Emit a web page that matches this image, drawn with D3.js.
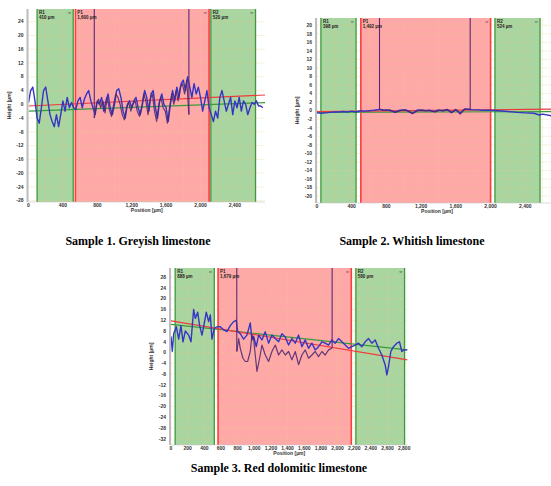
<!DOCTYPE html>
<html lang="en">
<head>
    <meta charset="UTF-8">
    <title>Limestone profiles</title>
    <script src="https://cdn.jsdelivr.net/npm/d3@7/dist/d3.min.js"></script>
    <style>
        body { margin: 0; background: #fff; }
        svg { display: block; }
        .tick-label { font-family: "Liberation Sans", Arial, sans-serif; font-size: 5px; font-weight: bold; fill: #333; }
        .axis-title { font-family: "Liberation Sans", Arial, sans-serif; font-size: 5px; font-weight: bold; fill: #333; }
        .region-label { font-family: "Liberation Sans", Arial, sans-serif; font-size: 4.5px; font-weight: bold; fill: #222; }
        .caption { font-family: "Liberation Serif", "Times New Roman", serif; font-size: 12px; font-weight: bold; fill: #000; }
    </style>
</head>
<body>
    <svg width="551" height="486"></svg>
    <script>
        // sample 1 - greyish limestone  [position µm, height µm]
        const s1Profile = [[0,0.5],[25,4],[50,5],[75,1],[100,-4],[125,-5.5],[150,-1],[175,4],[200,5],[225,1],[250,-3],[275,-5],
            [300,-6.5],[325,-3],[350,-6.5],[375,-3],[400,1],[425,-2],[450,2],[475,-1],[500,0.5],[525,-1],[550,-1.5],[575,1],
            [600,2],[625,-1],[650,1.5],[675,3],[700,4],[725,1],[750,-1],[775,-3],[800,1],[825,0],[850,2],[875,-2],[900,1],
            [925,3],[950,-1],[975,-3],[1000,0],[1025,4],[1050,4.5],[1075,2],[1100,-2],[1125,-4],[1150,0],[1175,1],[1200,-1],
            [1225,1],[1250,2],[1275,-1],[1300,-3],[1325,0],[1350,4],[1375,2],[1400,-2],[1425,3],[1450,4],[1475,-1],[1500,-4],
            [1525,1],[1550,3],[1575,0],[1600,-1],[1625,-5],[1650,0],[1675,4],[1700,1],[1725,5],[1750,2],[1775,6],[1800,7],
            [1825,4],[1850,8],[1875,5],[1900,2],[1925,6],[1950,3],[1975,5],[2000,2],[2025,-2],[2050,1],[2075,4],[2100,-1],
            [2125,-3],[2150,-5],[2175,-2],[2200,-4],[2225,2],[2250,4],[2275,1],[2300,-2],[2325,0],[2350,2],[2375,-3],[2400,1],
            [2425,-1],[2450,2],[2475,-2],[2500,1],[2525,0],[2550,-3],[2575,-1],[2600,0.5],[2625,0],[2650,1],[2675,-0.5],
            [2700,-0.5],[2725,-1]];
        const s1Trace = [[765,-4],[790,0],[815,1.5],[840,-1],[865,1],[890,-2.5],[915,2],[940,-1.5],[965,-3.5],[990,0],[1015,3],
            [1040,2],[1065,0],[1090,-3],[1115,-4.5],[1140,-1],[1165,0.5],[1190,-2],[1215,0],[1240,1],[1265,-2],[1290,-3.5],
            [1315,-1],[1340,3],[1365,1],[1390,-3],[1415,1.5],[1440,3],[1465,-2],[1490,-5],[1515,0],[1540,2],[1565,-1],[1590,-2],
            [1615,-5.5],[1640,-1],[1665,3],[1690,0],[1715,4],[1740,1],[1765,5],[1790,6],[1815,3],[1840,7],[1865,-3]];
        const s1Regions = [["R1", 100, 520, "410 µm"], ["P1", 545, 2100, "1,600 µm"], ["R2", 2120, 2640, "520 µm"]];
        const s1Cursors = [[765, -4], [1865, -3]];
        const s1RedFit = [[0, -0.5], [2750, 2.7]];
        const s1GreenFit = [[0, -2], [2750, 0.5]];

        // sample 2 - whitish limestone
        const s2Profile = [[0,-0.5],[50,-0.6],[100,-0.5],[150,-0.4],[200,-0.3],[250,-0.3],[300,-0.2],[350,-0.3],[400,-0.1],
            [450,-0.3],[500,0],[550,-0.1],[600,0],[650,0.1],[720,0.3],[760,0.1],[800,0.2],[850,0],[900,-0.3],[950,0.1],
            [1000,0.2],[1050,0],[1100,-0.6],[1150,0.1],[1200,0.2],[1250,0],[1300,0.1],[1350,-0.2],[1400,0.2],[1450,-0.1],
            [1500,0.3],[1550,-0.4],[1600,0.3],[1650,-0.6],[1700,0.4],[1750,0.3],[1800,0.2],[1850,0.2],[1900,0.1],[2000,0.1],
            [2100,0],[2200,-0.2],[2300,-0.4],[2400,-0.5],[2500,-0.6],[2560,-1.0],[2600,-0.8],[2700,-1.2],[2750,-1.3]];
        const s2Trace = [[720,0.4],[780,0.1],[840,0.2],[900,-0.4],[960,0],[1020,0.2],[1100,-0.7],[1160,0],[1220,0.1],[1300,0],
            [1360,-0.3],[1420,0.1],[1500,0.2],[1550,-0.5],[1600,0.2],[1650,-0.8],[1700,0.3],[1765,0.4]];
        const s2Regions = [["R1", 45, 450, "398 µm"], ["P1", 505, 2000, "1,492 µm"], ["R2", 2050, 2570, "524 µm"]];
        const s2Cursors = [[720, 0.4], [1765, 0.4]];
        const s2RedFit = [[0, -0.2], [2800, 0.4]];
        const s2GreenFit = [[0, -0.4], [2800, -0.2]];

        // sample 3 - red dolomitic limestone
        const s3Profile = [[0,6],[16,0.5],[32,7],[64,9.6],[92,5],[120,10],[144,4],[172,8],[212,6.5],[240,4],[272,16],[292,12.7],
            [320,15],[344,10],[372,6.5],[392,9.6],[424,15],[452,11.5],[472,14],[492,5],[520,9],[552,9.6],[592,9.6],[632,8.5],
            [672,7.8],[712,10],[752,11.5],[784,12],[800,7.8],[832,7],[872,5],[912,6.5],[952,11],[972,4.7],[992,6],[1024,2.2],
            [1052,6.5],[1092,4.7],[1132,7.7],[1172,3.5],[1212,6.5],[1252,5.2],[1292,4],[1332,7],[1372,5.8],[1412,2.8],[1452,5.2],
            [1492,3.5],[1532,6.5],[1572,2.2],[1612,4.7],[1652,1.6],[1692,3.5],[1732,1],[1772,2.2],[1812,4],[1852,3.5],[1892,2.8],
            [1932,4.7],[1972,3.5],[2012,5.2],[2052,4],[2092,2.8],[2132,1.6],[2172,2.2],[2212,2.8],[2252,3.5],[2292,2.2],[2332,4],
            [2372,5.2],[2412,3.5],[2452,4.7],[2492,1.6],[2532,-0.9],[2572,-4.6],[2592,-8.3],[2612,-5.2],[2640,0.4],[2672,2.2],
            [2712,3.5],[2744,4],[2772,0.4],[2800,1],[2840,1]];
        const s3Trace = [[792,0.4],[812,5.2],[832,1.6],[864,-2.1],[892,-3.3],[920,-3.3],[952,0.4],[972,6.5],[992,5.2],[1012,-0.9],
            [1032,-7],[1064,-2.1],[1092,2.8],[1132,-0.9],[1172,-3.3],[1212,0.4],[1252,2.8],[1292,-0.9],[1332,1],[1372,-0.9],
            [1412,0.4],[1452,-2.7],[1492,0.4],[1532,-4.5],[1572,-0.9],[1612,1],[1652,-2.1],[1692,-0.9],[1732,0.4],[1772,-1.5],
            [1812,0.4],[1852,-0.9],[1892,1],[1932,1.6]];
        const s3Regions = [["R1", 50, 520, "888 µm"], ["P1", 565, 2165, "1,679 µm"], ["R2", 2220, 2805, "580 µm"]];
        const s3Cursors = [[790, 0.4], [1935, 1.6]];
        const s3RedFit = [[0, 11.8], [2840, -2.7]];
        const s3GreenFit = [[0, 10.5], [2840, 1]];

        const s1YTicks = d3.range(-28, 25, 4);
        const s2YTicks = d3.range(-20, 21, 2);
        const s3YTicks = d3.range(-32, 29, 4);
        const s1XTicks = [0, 400, 800, 1200, 1600, 2000, 2400];
        const s3XTicks = d3.range(0, 2801, 200);

        const captions = ["Sample 1. Greyish limestone", "Sample 2. Whitish limestone", "Sample 3. Red dolomitic limestone"];

        const svg = d3.select('svg');

        function drawChart(cfg) {
            const x = d3.scaleLinear().domain(cfg.xDomain).range([cfg.left, cfg.left + cfg.width]);
            const y = d3.scaleLinear().domain(cfg.yDomain).range([cfg.top + cfg.height, cfg.top]);
            const g = svg.append('g');

            const clipId = 'clip' + cfg.id;
            g.append('clipPath').attr('id', clipId)
                .append('rect')
                .attr('x', cfg.left).attr('y', cfg.top)
                .attr('width', cfg.width).attr('height', cfg.height);

            const plot = g.append('g').attr('clip-path', `url(#${clipId})`);

            // regions
            cfg.regions.forEach(r => {
                const isRed = r[0][0] === 'P';
                plot.append('rect')
                    .attr('x', x(r[1])).attr('y', cfg.top)
                    .attr('width', x(r[2]) - x(r[1])).attr('height', cfg.height)
                    .attr('fill', isRed ? '#ffa8a8' : '#a9d5a0');
            });

            // grid
            plot.selectAll('.vg').data(cfg.xGrid).join('line')
                .attr('x1', d => x(d)).attr('x2', d => x(d))
                .attr('y1', cfg.top).attr('y2', cfg.top + cfg.height)
                .attr('stroke', '#e8c98a').attr('stroke-opacity', 0.45).attr('stroke-width', 0.6);
            plot.selectAll('.hg').data(cfg.yTicks).join('line')
                .attr('x1', cfg.left).attr('x2', cfg.left + cfg.width)
                .attr('y1', d => y(d)).attr('y2', d => y(d))
                .attr('stroke', '#e8c98a').attr('stroke-opacity', 0.45).attr('stroke-width', 0.6);

            // region borders + labels
            cfg.regions.forEach(r => {
                const isRed = r[0][0] === 'P';
                const col = isRed ? '#ff3c3c' : '#3c9a3c';
                [r[1], r[2]].forEach(p => {
                    plot.append('line')
                        .attr('x1', x(p)).attr('x2', x(p))
                        .attr('y1', cfg.top).attr('y2', cfg.top + cfg.height)
                        .attr('stroke', col).attr('stroke-width', isRed ? 1.6 : 1.3);
                });
                g.append('text').attr('class', 'region-label')
                    .attr('x', x(r[1]) + 2).attr('y', cfg.top + 4.5).text(r[0]);
                g.append('text').attr('class', 'region-label')
                    .attr('x', x(r[1]) + 2).attr('y', cfg.top + 9.5).text(r[3]);
                g.append('text').attr('class', 'region-label')
                    .attr('x', x(r[2]) - 1.5).attr('y', cfg.top + 4.5)
                    .attr('text-anchor', 'end').text('⇔');
            });

            const line = d3.line().x(d => x(d[0])).y(d => y(d[1]));

            // fitted lines
            plot.append('path').datum(cfg.greenFit).attr('d', line)
                .attr('fill', 'none').attr('stroke', '#3a9a3a').attr('stroke-width', 1.2);
            plot.append('path').datum(cfg.redFit).attr('d', line)
                .attr('fill', 'none').attr('stroke', '#f03a3a').attr('stroke-width', 1.2);

            // profile
            plot.append('path').datum(cfg.profile).attr('d', line)
                .attr('fill', 'none').attr('stroke', '#3535c4').attr('stroke-width', 1.4)
                .attr('stroke-linejoin', 'round');
            plot.append('path').datum(cfg.trace).attr('d', line)
                .attr('fill', 'none').attr('stroke', '#4a2470').attr('stroke-width', 1.2)
                .attr('stroke-opacity', 0.85).attr('stroke-linejoin', 'round');

            // cursors
            plot.selectAll('.cur').data(cfg.cursors).join('line')
                .attr('x1', d => x(d[0])).attr('x2', d => x(d[0]))
                .attr('y1', cfg.top).attr('y2', d => y(d[1]))
                .attr('stroke', '#5a2a78').attr('stroke-width', 1.1);

            // left grey bar and bottom axis line
            g.append('rect')
                .attr('x', cfg.left - 2).attr('y', cfg.top)
                .attr('width', 2).attr('height', cfg.height)
                .attr('fill', '#bdbdbd');
            g.append('line')
                .attr('x1', cfg.left).attr('x2', cfg.left + cfg.width)
                .attr('y1', cfg.top + cfg.height).attr('y2', cfg.top + cfg.height)
                .attr('stroke', '#c8c8c8').attr('stroke-width', 0.6);

            // tick labels
            g.selectAll('.yl').data(cfg.yTicks).join('text')
                .attr('class', 'tick-label')
                .attr('x', cfg.left - 5).attr('y', d => y(d) + 1.7)
                .attr('text-anchor', 'end')
                .text(d => d);
            const fmt = d3.format(',');
            g.selectAll('.xl').data(cfg.xTicks).join('text')
                .attr('class', 'tick-label')
                .attr('x', d => x(d)).attr('y', cfg.top + cfg.height + 5)
                .attr('text-anchor', 'middle')
                .text(d => fmt(d));

            g.append('text').attr('class', 'axis-title')
                .attr('x', x((cfg.xDomain[0] + cfg.xDomain[1]) / 2)).attr('y', cfg.top + cfg.height + 10)
                .attr('text-anchor', 'middle').text('Position [µm]');
            g.append('text').attr('class', 'axis-title')
                .attr('transform', `translate(${cfg.left - 18},${cfg.top + cfg.height / 2}) rotate(-90)`)
                .attr('text-anchor', 'middle').text('Height [µm]');

            svg.append('text').attr('class', 'caption')
                .attr('x', cfg.capX).attr('y', cfg.capY)
                .attr('text-anchor', 'middle').text(cfg.caption);
        }

        drawChart({
            id: 1, left: 28.5, top: 9, width: 236.5, height: 193,
            xDomain: [0, 2750], yDomain: [-28.4, 27.7],
            xTicks: s1XTicks, xGrid: d3.range(0, 2750, 200), yTicks: s1YTicks,
            regions: s1Regions, profile: s1Profile, trace: s1Trace, cursors: s1Cursors,
            redFit: s1RedFit, greenFit: s1GreenFit,
            caption: captions[0], capX: 138, capY: 245
        });
        drawChart({
            id: 2, left: 317, top: 18, width: 240, height: 185,
            xDomain: [0, 2765], yDomain: [-21.6, 21.7],
            xTicks: s1XTicks, xGrid: d3.range(0, 2800, 200), yTicks: s2YTicks,
            regions: s2Regions, profile: s2Profile, trace: s2Trace, cursors: s2Cursors,
            redFit: s2RedFit, greenFit: s2GreenFit,
            caption: captions[1], capX: 412, capY: 245
        });
        drawChart({
            id: 3, left: 171, top: 268, width: 236.5, height: 177,
            xDomain: [0, 2840], yDomain: [-34.3, 31.4],
            xTicks: s3XTicks, xGrid: s3XTicks, yTicks: s3YTicks,
            regions: s3Regions, profile: s3Profile, trace: s3Trace, cursors: s3Cursors,
            redFit: s3RedFit, greenFit: s3GreenFit,
            caption: captions[2], capX: 279, capY: 472
        });
    </script>
</body>
</html>
